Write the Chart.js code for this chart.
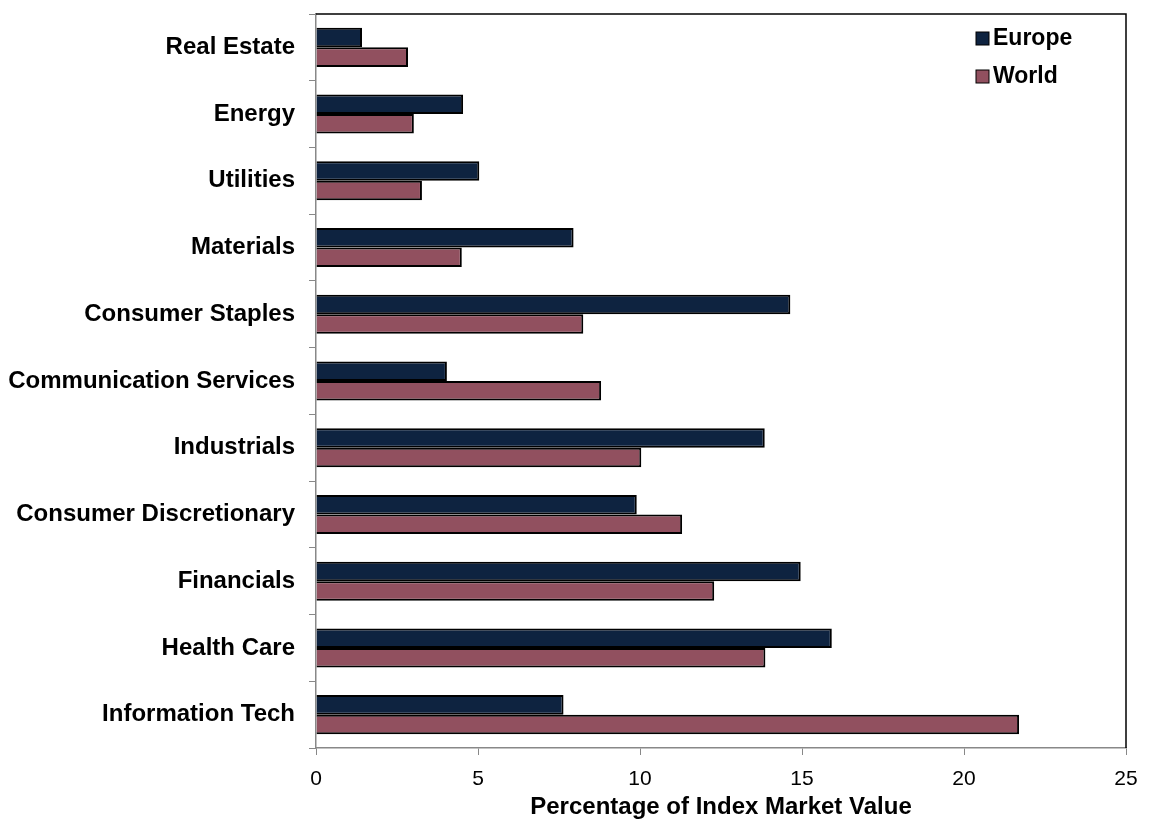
<!DOCTYPE html>
<html>
<head>
<meta charset="utf-8">
<script src="https://cdn.jsdelivr.net/npm/chart.js@4"></script>
<style>
  html, body { margin: 0; padding: 0; background: #fff; }
  #wrap { width: 1154px; height: 838px; }
</style>
</head>
<body>
<div id="wrap"><canvas id="sectorChart" width="1154" height="838"></canvas></div>
<script>
const sectors = ["Real Estate", "Energy", "Utilities", "Materials", "Consumer Staples",
  "Communication Services", "Industrials", "Consumer Discretionary", "Financials",
  "Health Care", "Information Tech"];
const europe = [1.42, 4.54, 5.04, 7.95, 14.64, 4.04, 13.85, 9.9, 14.96, 15.92, 7.64];
const world = [2.84, 3.02, 3.27, 4.5, 8.25, 8.8, 10.04, 11.3, 12.29, 13.87, 21.7];
const xTicks = [0, 5, 10, 15, 20, 25];

const FONT = "'Liberation Sans', Arial, sans-serif";

// legend sits inside the plot, top right
const insideLegend = {
  id: 'insideLegend',
  afterDraw(chart) {
    const ctx = chart.ctx;
    const area = chart.chartArea;
    ctx.save();
    // black frame on top and right of plot
    ctx.strokeStyle = '#000';
    ctx.lineWidth = 1.5;
    ctx.beginPath();
    ctx.moveTo(area.left, area.top);
    ctx.lineTo(area.right, area.top);
    ctx.lineTo(area.right, area.bottom);
    ctx.stroke();

    ctx.font = "bold 23px " + FONT;
    ctx.textBaseline = 'middle';
    chart.data.datasets.forEach((ds, i) => {
      const y = area.top + 24 + i * 38;
      const x = area.right - 150;
      ctx.fillStyle = ds.backgroundColor;
      ctx.fillRect(x, y - 6, 13, 13);
      ctx.strokeStyle = '#000';
      ctx.lineWidth = 1;
      ctx.strokeRect(x, y - 6, 13, 13);
      ctx.fillStyle = '#000';
      ctx.fillText(ds.label, x + 17, y + 1);
    });
    ctx.restore();
  }
};

new Chart(document.getElementById('sectorChart'), {
  type: 'bar',
  data: {
    labels: sectors,
    datasets: [
      {
        label: 'Europe',
        data: europe,
        backgroundColor: '#0E2340',
        borderColor: '#000',
        borderWidth: 2,
        categoryPercentage: 0.585,
        barPercentage: 1.0
      },
      {
        label: 'World',
        data: world,
        backgroundColor: '#91505F',
        borderColor: '#000',
        borderWidth: 2,
        categoryPercentage: 0.585,
        barPercentage: 1.0
      }
    ]
  },
  options: {
    indexAxis: 'y',
    responsive: false,
    animation: false,
    layout: { padding: { left: 0, right: 28, top: 14, bottom: 12 } },
    plugins: {
      legend: { display: false },
      tooltip: { enabled: false }
    },
    scales: {
      x: {
        min: 0,
        max: 25,
        afterBuildTicks: (scale) => { scale.ticks = xTicks.map(v => ({ value: v })); },
        afterFit: (scale) => { scale.height = 78; },
        grid: { drawOnChartArea: false, color: '#888', tickLength: 7 },
        border: { color: '#888', width: 1.5 },
        ticks: { color: '#000', font: { family: FONT, size: 21 }, padding: 12 },
        title: {
          display: true,
          text: 'Percentage of Index Market Value',
          color: '#000',
          font: { family: FONT, size: 24, weight: 'bold' },
          padding: { top: 2, bottom: 4 }
        }
      },
      y: {
        afterFit: (scale) => {
          scale.width = 316;
          scale.paddingTop = 0;
          scale.paddingBottom = 0;
        },
        grid: { drawOnChartArea: false, color: '#888', tickLength: 7, offset: true },
        border: { color: '#888', width: 1.5 },
        ticks: { color: '#000', font: { family: FONT, size: 24, weight: 'bold' }, padding: 14 }
      }
    }
  },
  plugins: [insideLegend]
});
</script>
</body>
</html>
